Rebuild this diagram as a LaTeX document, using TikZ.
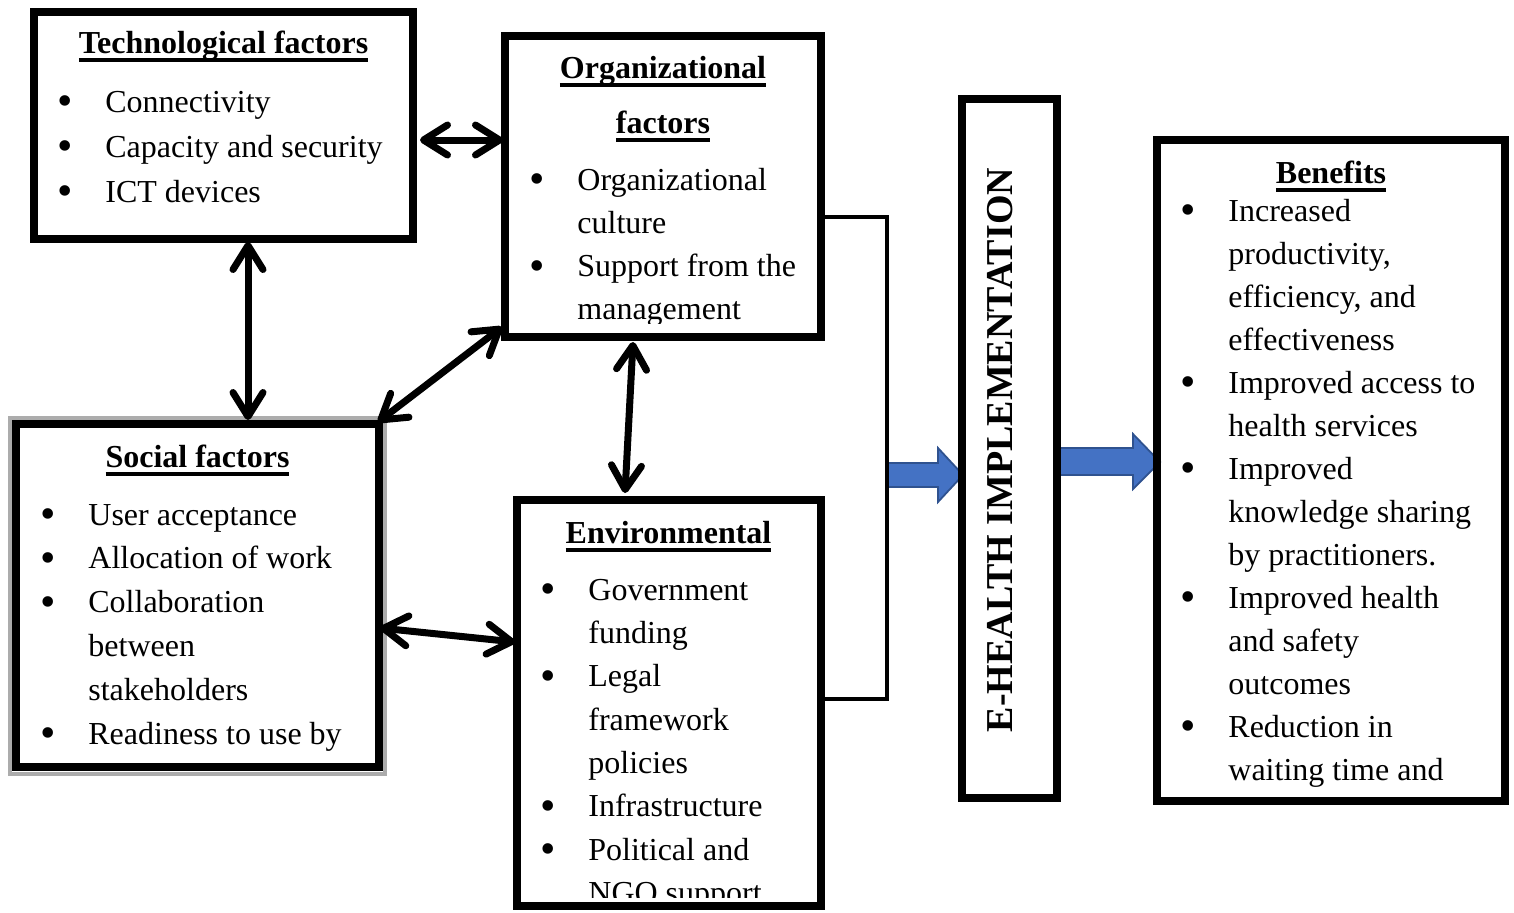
\documentclass[tikz,border=0pt]{standalone}
\usepackage{fontspec}
\setmainfont{Liberation Serif}
\usetikzlibrary{arrows.meta,calc,fit}
\definecolor{arrblue}{HTML}{4472C4}
\definecolor{arredge}{HTML}{2F528F}
\newcommand\bu{\makebox[20pt][l]{\makebox[0pt]{\raisebox{-1.8pt}{\fontsize{22}{22}\selectfont •}}}}
\newcommand\ind{\hspace*{20pt}}
\newcommand\ulh[1]{\setbox0\hbox{\bfseries #1}\rlap{\rule[-4.4pt]{\wd0}{1.8pt}}\box0}
\begin{document}
\begin{tikzpicture}[x=0.5pt,y=-0.5pt,
  box/.style={draw, line width=3.8pt, inner sep=0pt, outer sep=0pt},
  biarrow/.style={line width=3.5pt, {Straight Barb[length=12pt,width=15pt,round]}-{Straight Barb[length=12pt,width=15pt,round]}},
  body/.style={anchor=base west, inner sep=0pt, font=\fontsize{16}{#1}\selectfont},
  head/.style={anchor=base, inner sep=0pt, font=\bfseries\fontsize{16}{16}\selectfont},
  blockarrow/.style={fill=arrblue, draw=arredge, line width=0.9pt, line join=miter},
  bracket/.style={line width=1.6pt}]
\useasboundingbox (0,0) rectangle (1514,912);

% block arrows
\draw[blockarrow] (887,463) -- (938,463) -- (938,448) -- (963,475) -- (938,502) -- (938,487) -- (887,487) -- cycle;
\draw[blockarrow] (1057,448) -- (1133,448) -- (1133,434) -- (1160,462) -- (1133,489) -- (1133,475) -- (1057,475) -- cycle;

% boxes
\node[box, fit={(34,12)(413,239)}] (tech) {};
\node[box, fit={(505,36)(821,337)}] (org) {};
\draw[gray!65, line width=2pt] (10,418) rectangle (385,774);
\node[box, fit={(16,424)(379,767)}] (social) {};
\node[box, fit={(517,500)(821,906)}] (env) {};
\node[box, fit={(962,99)(1057,798)}] (eh) {};
\node[box, fit={(1157,140)(1505,801)}] (ben) {};

% bracket
\draw[bracket] ($(org.east)+(0,30.5)$) -- ++(66,0) |- ($(env.east)+(0,-4)$);

% connectors
\draw[biarrow] ($(tech.east)+(7,14.5)$) -- ($(org.west)+(-2,-46.5)$);
\draw[biarrow] ($(tech.south)+(24.5,3)$) -- ($(social.north)+(50.5,-4)$);
\draw[biarrow] ($(social.north east)+(-1,-2)$) -- ($(org.south west)+(-3,-10)$);
\draw[biarrow] ($(org.south)+(-30,5)$) -- ($(env.north)+(-44,-7)$);
\draw[biarrow] ($(social.east)+(1,32.5)$) -- ($(env.west)+(-2,-61)$);

% technological
\node[head] (techT) at (223.5,53) {\ulh{Technological factors}};
\node[body=22.5pt] (techL) at (65,112) {\begin{tabular}[t]{@{}l@{}}\bu Connectivity\\ \bu Capacity and security\\ \bu ICT devices\end{tabular}};

% organizational
\node[head] (orgT1) at (663,78) {\ulh{Organizational}};
\node[head] (orgT2) at (663,133) {\ulh{factors}};
\begin{scope}
\clip (509,40) rectangle (817,323);
\node[body=21.65pt] (orgL) at (537,190) {\begin{tabular}[t]{@{}l@{}}\bu Organizational\\ \ind culture\\ \bu Support from the\\ \ind management\end{tabular}};
\end{scope}

% social
\node[head] (socT) at (197.5,467) {\ulh{Social factors}};
\node[body=21.9pt] (socL) at (48,525) {\begin{tabular}[t]{@{}l@{}}\bu User acceptance\\ \bu Allocation of work\\ \bu Collaboration\\ \ind between\\ \ind stakeholders\\ \bu Readiness to use by\end{tabular}};

% environmental
\node[head] (envT) at (668.5,543) {\ulh{Environmental}};
\begin{scope}
\clip (521,504) rectangle (817,897);
\node[body=21.67pt] (envL) at (548,600) {\begin{tabular}[t]{@{}l@{}}\bu Government\\ \ind funding\\ \bu Legal\\ \ind framework\\ \ind policies\\ \bu Infrastructure\\ \bu Political and\\ \ind NGO support\end{tabular}};
\end{scope}

% e-health
\node[rotate=90, anchor=base, inner sep=0pt, font=\bfseries\fontsize{19}{19}\selectfont] (ehT) at (1012,450) {E-HEALTH IMPLEMENTATION};

% benefits
\node[head] (benT) at (1331,183) {\ulh{Benefits}};
\node[body=21.5pt] (benL) at (1188,221) {\begin{tabular}[t]{@{}l@{}}\bu Increased\\ \ind productivity,\\ \ind efficiency, and\\ \ind effectiveness\\ \bu Improved access to\\ \ind health services\\ \bu Improved\\ \ind knowledge sharing\\ \ind by practitioners.\\ \bu Improved health\\ \ind and safety\\ \ind outcomes\\ \bu Reduction in\\ \ind waiting time and\end{tabular}};
\end{tikzpicture}
\end{document}
